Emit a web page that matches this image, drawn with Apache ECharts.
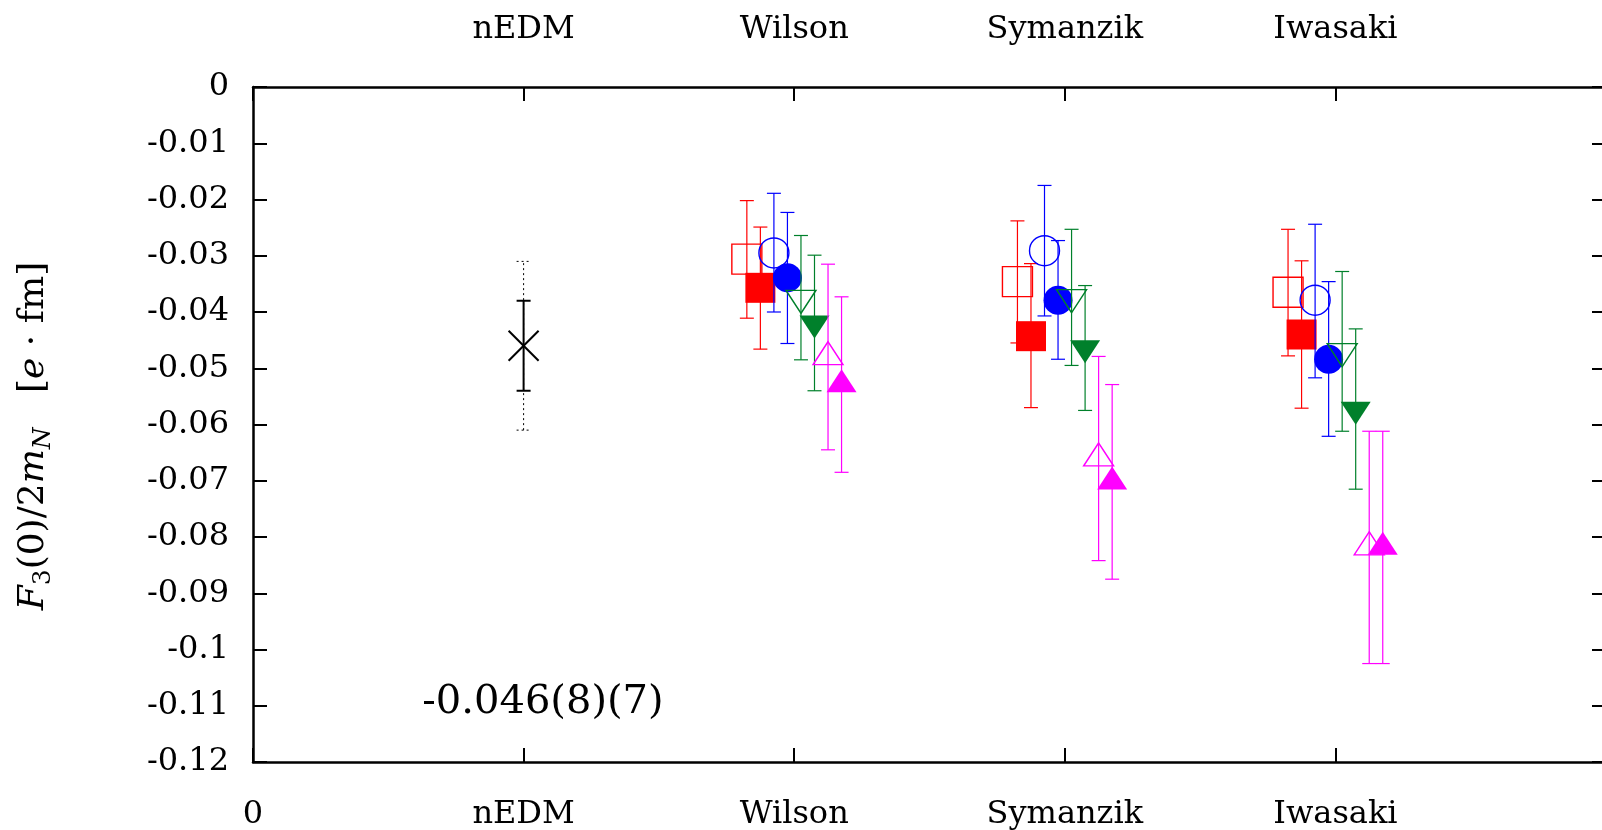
<!DOCTYPE html>
<html>
<head>
<meta charset="utf-8">
<script src="https://cdn.jsdelivr.net/npm/echarts@6/dist/echarts.min.js"></script>
<style>
html,body{margin:0;padding:0;background:#fff;}
#chart{width:1602px;height:830px;}
</style>
</head>
<body>
<div id="chart"></div>
<script>
// ---------- data ----------
const bottomTickLabels = ['0', 'nEDM', 'Wilson', 'Symanzik', 'Iwasaki', ''];
const topTickLabels = ['', 'nEDM', 'Wilson', 'Symanzik', 'Iwasaki', ''];
const yTickLabels = ['0', '-0.01', '-0.02', '-0.03', '-0.04', '-0.05', '-0.06',
  '-0.07', '-0.08', '-0.09', '-0.1', '-0.11', '-0.12'];

// lattice actions at x = 2, 3, 4
const actionX = [2, 3, 4];
// horizontal shift of each data set inside a group
const setShift = [-0.175, -0.125, -0.075, -0.025, 0.025, 0.075, 0.125, 0.175];

// each entry: [value, lower end of error bar, upper end of error bar] for Wilson, Symanzik, Iwasaki
const redOpen     = [[-0.0306, -0.0411, -0.0202], [-0.0346, -0.0455, -0.0238], [-0.0365, -0.0478, -0.0253]];
const redFilled   = [[-0.0357, -0.0466, -0.0249], [-0.0443, -0.0570, -0.0314], [-0.0440, -0.0571, -0.0309]];
const blueOpen    = [[-0.0295, -0.0400, -0.0189], [-0.0291, -0.0407, -0.0175], [-0.0379, -0.0517, -0.0244]];
const blueFilled  = [[-0.0339, -0.0456, -0.0223], [-0.0379, -0.0484, -0.0273], [-0.0484, -0.0621, -0.0346]];
const greenOpen   = [[-0.0375, -0.0485, -0.0264], [-0.0374, -0.0495, -0.0253], [-0.0470, -0.0612, -0.0328]];
const greenFilled = [[-0.0420, -0.0540, -0.0299], [-0.0464, -0.0575, -0.0353], [-0.0573, -0.0715, -0.0430]];
const magOpen     = [[-0.0480, -0.0645, -0.0315], [-0.0660, -0.0842, -0.0479], [-0.0818, -0.1025, -0.0612]];
const magFilled   = [[-0.0529, -0.0685, -0.0373], [-0.0702, -0.0875, -0.0529], [-0.0818, -0.1025, -0.0612]];

// nEDM: x, value, statistical error, total (linear) error range
const nedmX = 1;
const nedmValue = -0.046;
const nedmInner = [-0.054, -0.038];
const nedmOuter = [-0.061, -0.031];
const nedmText = '-0.046(8)(7)';

// ---------- styles ----------
const RED = '#ff0000', BLUE = '#0000ff', GREEN = '#00802b', MAG = '#ff00ff';
const sets = [
  {data: redOpen,     color: RED,   symbol: 'rect',     filled: false, size: 30},
  {data: redFilled,   color: RED,   symbol: 'rect',     filled: true,  size: 30},
  {data: blueOpen,    color: BLUE,  symbol: 'circle',   filled: false, size: 30},
  {data: blueFilled,  color: BLUE,  symbol: 'circle',   filled: true,  size: 29},
  {data: greenOpen,   color: GREEN, symbol: 'triangle', filled: false, size: [30, 23], down: true},
  {data: greenFilled, color: GREEN, symbol: 'triangle', filled: true,  size: [30, 23], down: true},
  {data: magOpen,     color: MAG,   symbol: 'triangle', filled: false, size: [30, 23]},
  {data: magFilled,   color: MAG,   symbol: 'triangle', filled: true,  size: [30, 23]}
];

const FONT = 'DejaVu Serif';
const CAP = 7;

function errBarRenderer(color, lw, dash) {
  return function (params, api) {
    const x = api.value(0);
    const pLo = api.coord([x, api.value(1)]);
    const pHi = api.coord([x, api.value(2)]);
    const st = {stroke: color, lineWidth: lw, lineDash: dash || null, fill: null};
    return {
      type: 'group',
      children: [
        {type: 'line', shape: {x1: pLo[0], y1: pLo[1], x2: pHi[0], y2: pHi[1]}, style: st},
        {type: 'line', shape: {x1: pLo[0] - CAP, y1: pLo[1], x2: pLo[0] + CAP, y2: pLo[1]}, style: st},
        {type: 'line', shape: {x1: pHi[0] - CAP, y1: pHi[1], x2: pHi[0] + CAP, y2: pHi[1]}, style: st}
      ]
    };
  };
}

const series = [];
sets.forEach(function (s, k) {
  const errData = s.data.map(function (d, g) { return [actionX[g] + setShift[k], d[1], d[2]]; });
  const ptData = s.data.map(function (d, g) { return [actionX[g] + setShift[k], d[0]]; });
  series.push({
    type: 'custom', xAxisIndex: 0, yAxisIndex: 0, silent: true, z: 2 + k,
    encode: {x: 0, y: [1, 2]},
    renderItem: errBarRenderer(s.color, 1.2),
    data: errData
  });
  let h = Array.isArray(s.size) ? s.size[1] : s.size;
  let offset = [0, 0];
  if (s.symbol === 'triangle') offset = [0, s.down ? h / 6 : -h / 6];
  series.push({
    type: 'scatter', xAxisIndex: 0, yAxisIndex: 0, silent: true, z: 2 + k,
    symbol: s.symbol, symbolSize: s.size, symbolOffset: offset,
    symbolRotate: s.down ? 180 : 0,
    itemStyle: {
      color: s.filled ? s.color : 'rgba(0,0,0,0)',
      borderColor: s.color,
      borderWidth: s.filled ? 0 : 1.4,
      opacity: 1
    },
    data: ptData
  });
});

// nEDM: dotted total error, solid statistical error, X marker
series.push({
  type: 'custom', silent: true, z: 1, encode: {x: 0, y: [1, 2]},
  renderItem: errBarRenderer('#000', 1, [2, 3]),
  data: [[nedmX, nedmOuter[0], nedmOuter[1]]]
});
series.push({
  type: 'custom', silent: true, z: 1, encode: {x: 0, y: [1, 2]},
  renderItem: errBarRenderer('#000', 2),
  data: [[nedmX, nedmInner[0], nedmInner[1]]]
});
series.push({
  type: 'custom', silent: true, z: 1, encode: {x: 0, y: 1},
  renderItem: function (params, api) {
    const p = api.coord([api.value(0), api.value(1)]);
    const r = 15;
    const st = {stroke: '#000', lineWidth: 2, fill: null};
    return {type: 'group', children: [
      {type: 'line', shape: {x1: p[0] - r, y1: p[1] - r, x2: p[0] + r, y2: p[1] + r}, style: st},
      {type: 'line', shape: {x1: p[0] - r, y1: p[1] + r, x2: p[0] + r, y2: p[1] - r}, style: st}
    ]};
  },
  data: [[nedmX, nedmValue]]
});

function axisLineStyle() { return {show: true, onZero: false, lineStyle: {color: '#000', width: 2.5}}; }
function tickStyle() { return {show: true, inside: true, length: 14, lineStyle: {color: '#000', width: 2}}; }

function xAxisDef(pos, labels, margin) {
  return {
    type: 'value', position: pos, min: 0, max: 5, interval: 1,
    axisLine: axisLineStyle(), axisTick: tickStyle(), splitLine: {show: false},
    axisLabel: {
      margin: margin, color: '#000', fontFamily: FONT, fontSize: 32,
      showMinLabel: true, showMaxLabel: true,
      formatter: function (v) { return labels[Math.round(v)]; }
    }
  };
}
function yAxisDef(pos, showLabel) {
  return {
    type: 'value', position: pos, min: -0.12, max: 0, interval: 0.01,
    axisLine: axisLineStyle(), axisTick: tickStyle(), splitLine: {show: false},
    axisLabel: {
      show: showLabel, margin: 24, color: '#000', fontFamily: FONT, fontSize: 32,
      formatter: function (v) { return yTickLabels[Math.round(-v / 0.01)]; }
    }
  };
}

const chart = echarts.init(document.getElementById('chart'), null, {renderer: 'canvas'});
chart.setOption({
  animation: false,
  backgroundColor: '#fff',
  grid: {left: 253, top: 87, width: 1353, height: 675, containLabel: false, outerBoundsMode: 'none', show: false},
  xAxis: [xAxisDef('bottom', bottomTickLabels, 37), xAxisDef('top', topTickLabels, 41)],
  yAxis: [yAxisDef('left', true), yAxisDef('right', false)],
  graphic: [
    {
      type: 'text', x: 34, y: 436, rotation: Math.PI / 2, silent: true,
      style: {
        text: '{i|F}{s|3}(0)/2{i|m}{si|N}   [{i|e} · fm]',
        fontFamily: FONT, fontSize: 36, fill: '#000',
        align: 'center', verticalAlign: 'middle',
        rich: {
          i: {fontFamily: FONT, fontStyle: 'italic', fontSize: 36, lineHeight: 44},
          s: {fontFamily: FONT, fontSize: 25, lineHeight: 25, verticalAlign: 'bottom'},
          si: {fontFamily: FONT, fontStyle: 'italic', fontSize: 25, lineHeight: 25, verticalAlign: 'bottom'}
        }
      }
    },
    {
      type: 'text', x: 543, y: 703, silent: true,
      style: {
        text: nedmText, fontFamily: FONT, fontSize: 40, fill: '#000',
        align: 'center', verticalAlign: 'middle'
      }
    }
  ],
  series: series
});
</script>
</body>
</html>
